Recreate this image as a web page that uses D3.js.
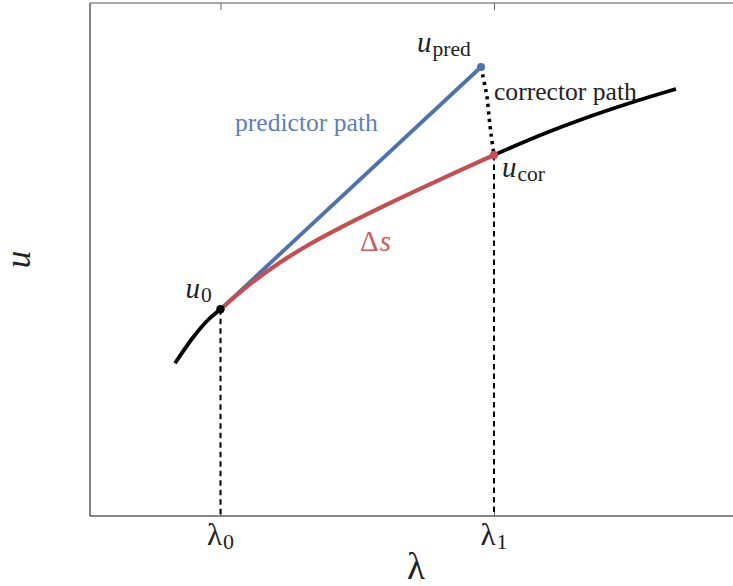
<!DOCTYPE html>
<html>
<head>
<meta charset="utf-8">
<script src="https://cdn.jsdelivr.net/npm/d3@7"></script>
<style>
  html, body { margin: 0; padding: 0; background: #fff; }
  svg { display: block; }
</style>
</head>
<body>
<svg id="chart" width="733" height="586" font-family="'Liberation Serif', 'DejaVu Serif', serif"></svg>
<script>
// ---------- data ----------
const lambdaLower = [0.85, 1.03, 1.17, 1.305];
const uLower      = [1.527, 1.785, 1.95, 2.067];

const lambdaStep  = [1.305, 1.60, 1.90, 2.20, 2.50, 2.90, 3.30, 3.70, 4.04];
const uStep       = [2.067, 2.319, 2.535, 2.72, 2.882, 3.082, 3.272, 3.456, 3.61];

const lambdaUpper = [4.04, 4.57, 4.90, 5.40, 5.86];
const uUpper      = [3.61, 3.835, 3.96, 4.13, 4.27];

const lambdaPredictor = [1.305, 3.91];
const uPredictor      = [2.067, 4.49];

const lambdaCorrector = [3.91, 3.95, 3.97, 3.99, 4.01, 4.04];
const uCorrector      = [4.49, 4.30, 4.19, 4.00, 3.82, 3.61];

const tickValues = [1.305, 4.04];
const tickSymbols = ["λ", "λ"];
const tickSubs    = ["0", "1"];

// ---------- layout ----------
const svg = d3.select("#chart");
const mLeft = 90, mRight = 742, mTop = 3, mBottom = 516;
const x = d3.scaleLinear().domain([0, 6.52]).range([mLeft, mRight]);
const y = d3.scaleLinear().domain([0, 5.13]).range([mBottom, mTop]);

const blue = "#4C72B0", red = "#C44E52";
const pts = (xs, ys) => xs.map((v, i) => [v, ys[i]]);
const smooth = d3.line().x(d => x(d[0])).y(d => y(d[1])).curve(d3.curveMonotoneX);
const straight = d3.line().x(d => x(d[0])).y(d => y(d[1]));
const bent = d3.line().x(d => x(d[0])).y(d => y(d[1])).curve(d3.curveCatmullRom.alpha(0.5));

// frame
const frame = svg.append("g").attr("stroke", "#333").attr("stroke-width", 1.2).attr("fill", "none");
frame.append("line").attr("x1", mLeft).attr("x2", mLeft).attr("y1", mTop).attr("y2", mBottom);
frame.append("line").attr("x1", mLeft).attr("x2", mRight).attr("y1", mTop).attr("y2", mTop).attr("stroke", "#555");
frame.append("line").attr("x1", mLeft).attr("x2", mRight).attr("y1", mBottom).attr("y2", mBottom).attr("stroke", "#111");
frame.append("line").attr("x1", mRight).attr("x2", mRight).attr("y1", mTop).attr("y2", mBottom);

// inward ticks (top and bottom)
const axTop = svg.append("g").attr("transform", `translate(0,${mTop})`)
  .call(d3.axisTop(x).tickValues(tickValues).tickSizeInner(-7).tickSizeOuter(0).tickFormat(""));
const axBot = svg.append("g").attr("transform", `translate(0,${mBottom})`)
  .call(d3.axisBottom(x).tickValues(tickValues).tickSizeInner(-7).tickSizeOuter(0).tickFormat(""));
[axTop, axBot].forEach(a => {
  a.select(".domain").remove();
  a.selectAll(".tick line").attr("stroke", "#666").attr("stroke-width", 1);
});

// dashed verticals
svg.append("g").selectAll("line").data(pts(tickValues, [uLower[uLower.length - 1], uStep[uStep.length - 1]]))
  .join("line")
  .attr("x1", d => x(d[0])).attr("x2", d => x(d[0]))
  .attr("y1", d => y(d[1])).attr("y2", mBottom)
  .attr("stroke", "#000").attr("stroke-width", 2).attr("stroke-dasharray", "5.5,4");

// solution curve
svg.append("path").datum(pts(lambdaLower, uLower)).attr("d", smooth)
  .attr("fill", "none").attr("stroke", "#000").attr("stroke-width", 3.8);
svg.append("path").datum(pts(lambdaUpper, uUpper)).attr("d", smooth)
  .attr("fill", "none").attr("stroke", "#000").attr("stroke-width", 3.8);

// predictor path
svg.append("path").datum(pts(lambdaPredictor, uPredictor)).attr("d", straight)
  .attr("fill", "none").attr("stroke", blue).attr("stroke-width", 3.8);

// arc length step
svg.append("path").datum(pts(lambdaStep, uStep)).attr("d", smooth)
  .attr("fill", "none").attr("stroke", red).attr("stroke-width", 4.2);

// corrector path
svg.append("path").datum(pts(lambdaCorrector, uCorrector)).attr("d", bent)
  .attr("fill", "none").attr("stroke", "#000").attr("stroke-width", 3.6).attr("stroke-dasharray", "3.2,4.3");

// markers
svg.append("circle").attr("cx", x(lambdaStep[0])).attr("cy", y(uStep[0])).attr("r", 4.2).attr("fill", "#000");
svg.append("circle").attr("cx", x(lambdaPredictor[1])).attr("cy", y(uPredictor[1])).attr("r", 4).attr("fill", blue);
svg.append("circle").attr("cx", x(lambdaStep[lambdaStep.length - 1])).attr("cy", y(uStep[uStep.length - 1])).attr("r", 4.2).attr("fill", red);

// math label helper
function mathLabel(px, py, main, sub, opts = {}) {
  const t = svg.append("text").attr("x", px).attr("y", py)
    .attr("fill", opts.color || "#222")
    .attr("text-anchor", opts.anchor || "start");
  t.append("tspan").attr("font-size", opts.size || 29).attr("font-style", opts.italic === false ? "normal" : "italic").text(main);
  if (sub) t.append("tspan").attr("font-size", opts.subSize || 21.5).attr("dx", opts.dx || 1).attr("dy", opts.dy || 4).text(sub);
  return t;
}

// point labels
const u0x = x(lambdaStep[0]), u0y = y(uStep[0]);
mathLabel(u0x - 35, u0y - 11, "u", "0");
const upx = x(lambdaPredictor[1]), upy = y(uPredictor[1]);
mathLabel(upx - 64, upy - 15, "u", "pred");
const ucx = x(lambdaStep[lambdaStep.length - 1]), ucy = y(uStep[uStep.length - 1]);
mathLabel(ucx + 8, ucy + 22, "u", "cor");

// path annotations
svg.append("text").attr("x", upx + 13).attr("y", upy + 33)
  .attr("font-size", 25.6).attr("fill", "#222").text("corrector path");
svg.append("text").attr("x", x(1.45)).attr("y", y(3.855))
  .attr("font-size", 25.6).attr("fill", "#5b7fc0").text("predictor path");
const ds = svg.append("text").attr("x", x(2.70)).attr("y", y(2.65)).attr("fill", "#cf5a5e").attr("font-size", 29);
ds.append("tspan").text("Δ");
ds.append("tspan").attr("dx", 1).attr("font-style", "italic").text("s");

// tick labels
tickValues.forEach((v, i) => {
  mathLabel(x(v), 545, tickSymbols[i], tickSubs[i], { anchor: "middle", italic: false, size: 31, subSize: 22, dy: 4, dx: 0 });
});

// axis labels
svg.append("text").attr("x", (mLeft + mRight) / 2).attr("y", 579).attr("text-anchor", "middle")
  .attr("font-size", 37).attr("fill", "#222").text("λ");
svg.append("text").attr("transform", `translate(30,${(mTop + mBottom) / 2}) rotate(-90)`)
  .attr("text-anchor", "middle").attr("font-size", 35).attr("font-style", "italic").attr("fill", "#222").text("u");
</script>
</body>
</html>
